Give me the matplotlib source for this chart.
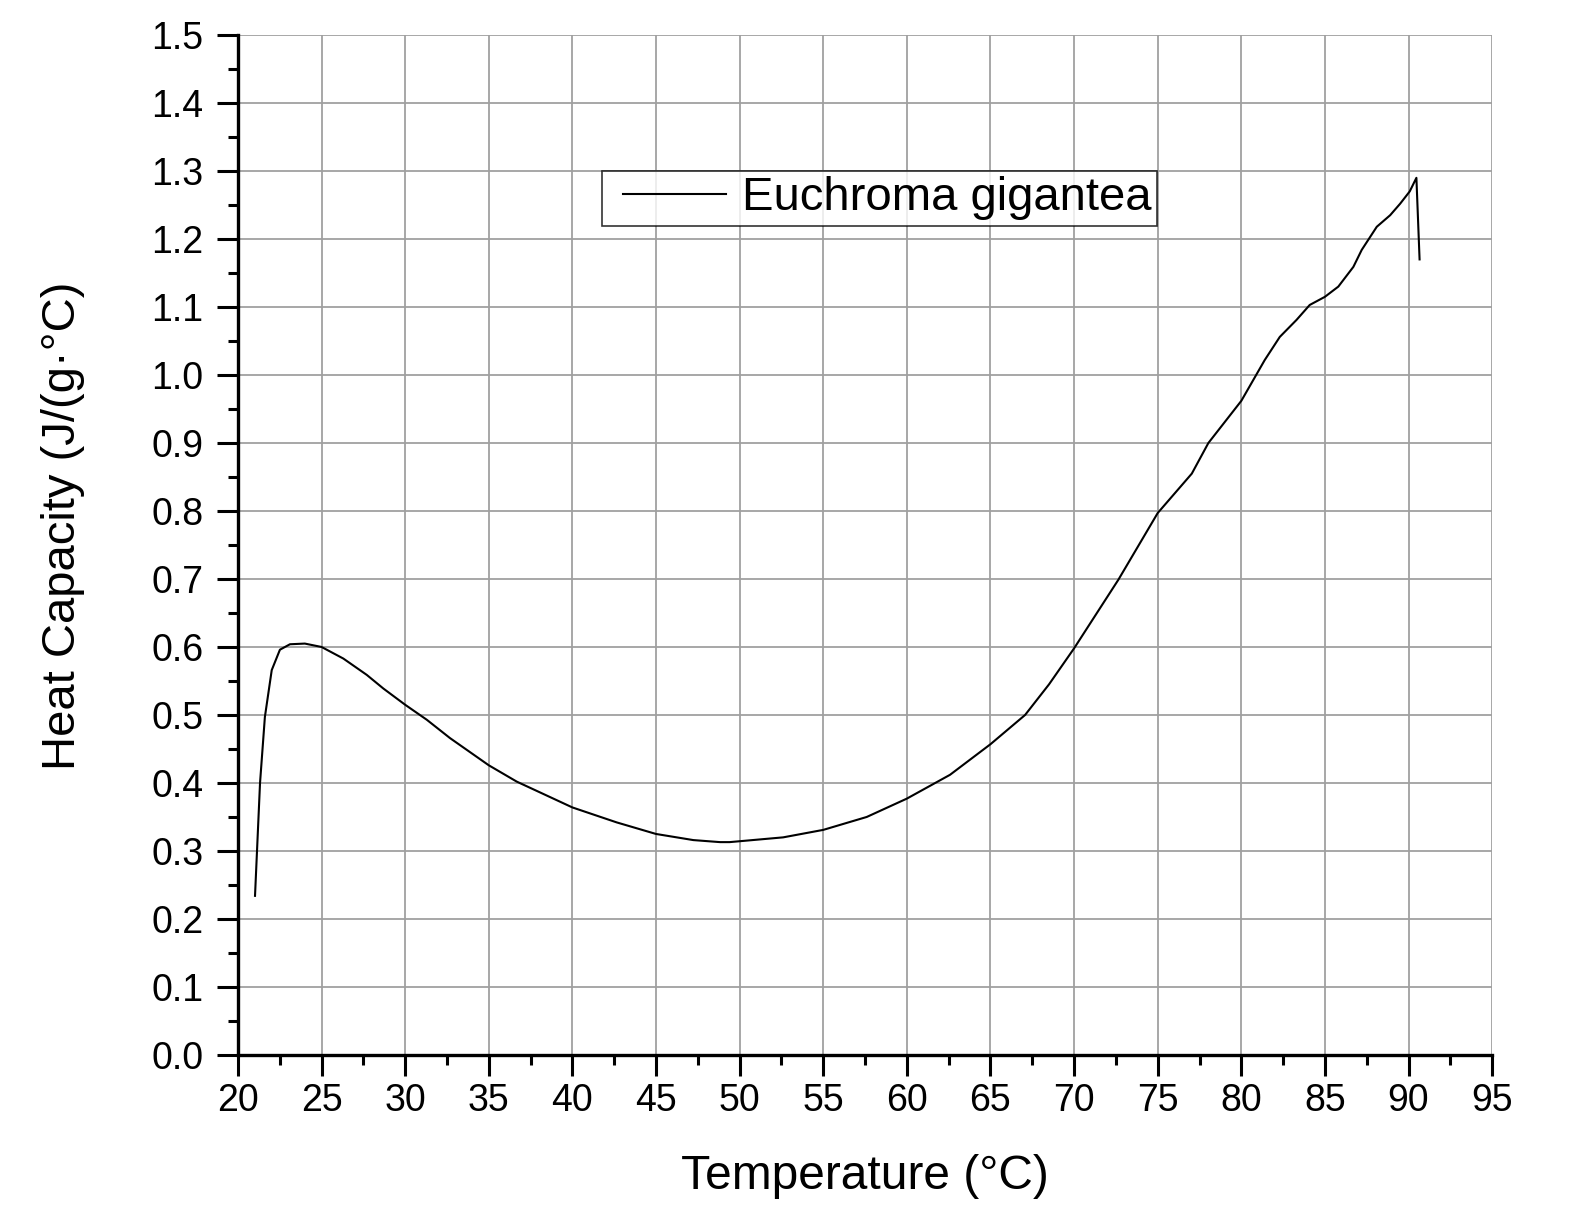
import matplotlib.pyplot as plt
from matplotlib.legend_handler import HandlerLine2D
from matplotlib.lines import Line2D
import numpy as np

plt.rcParams['font.family'] = ['Liberation Sans', 'DejaVu Sans']

# temperature (deg C) and heat capacity J/(g.C)
temp = [21.02, 21.32, 21.61, 22.02, 22.51, 23.11, 24.0, 25.0, 26.3, 27.7,
        28.69, 30.0, 31.29, 32.68, 35.0, 36.67, 40.0, 42.65, 45.0, 47.23,
        48.83, 49.4, 52.6, 55.0, 57.6, 60.0, 62.58, 65.0, 67.07, 68.5,
        70.0, 72.65, 75.0, 77.04, 78.03, 80.0, 81.4, 82.3, 83.3, 84.09,
        85.0, 85.8, 86.7, 87.2, 88.1, 88.9, 89.5, 90.07, 90.47, 90.66]
cp = [0.234, 0.400, 0.497, 0.566, 0.596, 0.604, 0.605, 0.600, 0.583, 0.559,
      0.539, 0.515, 0.493, 0.466, 0.426, 0.402, 0.364, 0.342, 0.325, 0.316,
      0.313, 0.313, 0.320, 0.331, 0.350, 0.377, 0.412, 0.457, 0.500, 0.545,
      0.598, 0.699, 0.797, 0.855, 0.900, 0.962, 1.022, 1.056, 1.081, 1.103,
      1.115, 1.130, 1.159, 1.184, 1.218, 1.235, 1.252, 1.270, 1.290, 1.170]

fig = plt.figure(figsize=(15.79, 12.08), dpi=100)
ax = fig.add_axes([0.1507, 0.1267, 0.7943, 0.8443])

ax.plot(temp, cp, color='black', lw=1.5, label='Euchroma gigantea')

ax.set_xlim(20, 95)
ax.set_ylim(0, 1.5)
ax.set_xticks(np.arange(20, 96, 5))
ax.set_yticks(np.arange(0, 1.51, 0.1))
ax.set_xticks(np.arange(22.5, 95, 5), minor=True)
ax.set_yticks(np.arange(0.05, 1.5, 0.1), minor=True)
ax.set_yticklabels(['%.1f' % v for v in np.arange(0, 1.51, 0.1)])

ax.grid(True, which='major', color='#a0a0a0', lw=1.3)
ax.set_axisbelow(True)
for s in ['top', 'right']:
    ax.spines[s].set_visible(False)
for s in ['left', 'bottom']:
    ax.spines[s].set_linewidth(2.4)
ax.tick_params(which='major', direction='out', length=15, width=2.2,
               labelsize=27)
ax.tick_params(axis='x', which='major', pad=5)
ax.tick_params(axis='y', which='major', pad=10)
ax.tick_params(which='minor', direction='out', length=7.5, width=2.2)

ax.set_xlabel('Temperature (°C)', fontsize=34.5)
ax.set_ylabel('Heat Capacity (J/(g·°C)', fontsize=34)
ax.xaxis.set_label_coords(0.5, -0.097)
ax.yaxis.set_label_coords(-0.122, 0.519)

leg = ax.legend(loc='upper left', bbox_to_anchor=(0.290, 0.867), fontsize=34,
                frameon=True, fancybox=False, edgecolor='black',
                handlelength=2.85, borderpad=0.12, handletextpad=0.0,
                borderaxespad=0,
                handler_map={Line2D: HandlerLine2D(marker_pad=0.34, numpoints=2)})
leg.get_frame().set_linewidth(1.2)

fig.savefig('out.png', dpi=100)
